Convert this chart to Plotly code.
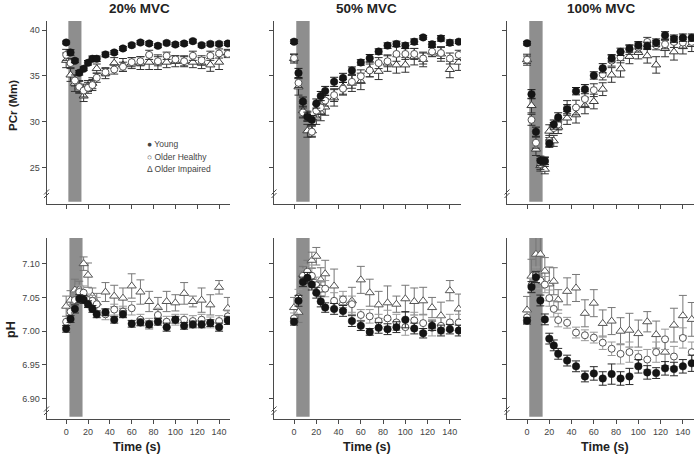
import plotly.graph_objects as go

W, H = 696, 456

time_s = [0, 4, 8, 12, 16, 20, 24, 28, 36, 44, 52, 60, 68, 76, 84, 92, 100, 108, 116, 124, 132, 140, 148]
panel_titles = ["20% MVC", "50% MVC", "100% MVC"]
x_ticks = [0, 20, 40, 60, 80, 100, 120, 140]
pcr_ticks = [25, 30, 35, 40]
ph_ticks = [6.90, 6.95, 7.00, 7.05, 7.10]
group_names = ["Young", "Older Healthy", "Older Impaired"]
contraction = [[2, 14], [2, 14], [2, 14], [3, 15], [2, 14], [2, 14]]

# ---- PCr (mM) ----
pcr20_young = [38.65, 37.56, 36.65, 35.34, 35.78, 36.43, 36.87, 36.87, 37.34, 37.56, 38.0, 38.36, 38.65, 38.54, 38.29, 38.6, 38.43, 38.54, 38.8, 38.36, 38.5, 38.5, 38.54]
pcr20_young_err = [0.15, 0.3, 0.2, 0.25, 0.2, 0.25, 0.3, 0.3, 0.25, 0.2, 0.2, 0.2, 0.2, 0.2, 0.2, 0.2, 0.2, 0.2, 0.2, 0.2, 0.2, 0.2, 0.2]
pcr20_healthy = [37.3, 36.4, 34.5, 33.8, 33.4, 33.7, 34.0, 34.8, 35.4, 35.7, 36.0, 36.5, 36.6, 37.3, 36.6, 37.2, 36.8, 36.6, 37.2, 36.7, 37.2, 37.45, 37.4]
pcr20_healthy_err = [0.6, 0.5, 0.6, 0.6, 0.7, 0.6, 0.6, 0.5, 0.4, 0.5, 0.5, 0.5, 0.5, 0.5, 0.5, 0.4, 0.4, 0.5, 0.5, 0.5, 0.5, 0.5, 0.4]
pcr20_impaired = [36.7, 35.1, 34.2, 33.8, 32.8, 33.9, 34.2, 35.8, 35.3, 36.4, 36.2, 36.4, 36.4, 36.5, 36.5, 36.5, 36.6, 36.6, 36.5, 36.4, 36.2, 36.5, 37.5]
pcr20_impaired_err = [0.8, 0.7, 0.9, 0.7, 0.6, 0.6, 0.6, 0.5, 0.6, 0.6, 0.7, 0.6, 0.7, 0.8, 0.8, 0.6, 0.6, 0.6, 0.6, 0.6, 0.7, 0.8, 0.4]

pcr50_young = [38.74, 35.32, 32.19, 30.54, 30.18, 31.98, 32.8, 33.35, 34.35, 34.78, 35.58, 36.47, 36.94, 37.66, 38.31, 38.49, 38.31, 38.74, 39.21, 38.45, 39.1, 38.63, 38.74]
pcr50_young_err = [0.2, 0.5, 0.5, 0.5, 0.5, 0.5, 0.5, 0.5, 0.5, 0.5, 0.4, 0.3, 0.4, 0.3, 0.3, 0.3, 0.3, 0.3, 0.2, 0.3, 0.3, 0.3, 0.2]
pcr50_healthy = [36.94, 34.24, 31.0, 30.65, 28.9, 31.2, 31.55, 32.3, 32.9, 33.6, 34.35, 34.96, 35.6, 36.4, 36.6, 37.4, 37.4, 37.4, 36.9, 37.66, 37.5, 36.9, 37.3]
pcr50_healthy_err = [0.4, 0.5, 0.5, 0.5, 0.6, 0.7, 0.7, 0.6, 0.7, 0.7, 0.7, 0.7, 0.7, 0.6, 0.6, 0.8, 0.6, 0.6, 0.6, 0.5, 0.6, 0.6, 0.5]
pcr50_impaired = [36.9, 33.8, 31.2, 29.0, 29.0, 30.5, 31.0, 31.6, 32.6, 33.8, 34.2, 34.4, 35.7, 35.5, 36.4, 36.2, 36.2, 37.1, 36.8, 37.6, 37.4, 35.7, 36.5]
pcr50_impaired_err = [0.5, 0.9, 0.8, 0.7, 0.6, 0.8, 0.9, 0.9, 0.9, 0.8, 0.9, 0.9, 0.8, 0.9, 0.9, 0.9, 0.8, 0.9, 0.8, 0.5, 0.8, 0.9, 0.9]

pcr100_young = [38.57, 33.0, 28.9, 25.73, 25.73, 27.6, 29.68, 30.47, 31.36, 33.33, 33.55, 35.05, 35.84, 36.92, 37.63, 37.99, 38.35, 38.28, 38.64, 39.43, 39.07, 39.18, 39.18]
pcr100_young_err = [0.2, 0.5, 0.5, 0.5, 0.4, 0.4, 0.5, 0.5, 0.5, 0.4, 0.5, 0.4, 0.5, 0.4, 0.4, 0.4, 0.4, 0.4, 0.4, 0.4, 0.4, 0.4, 0.4]
pcr100_healthy = [36.77, 30.2, 27.7, 25.38, 25.6, 27.9, 29.3, 29.7, 31.5, 31.54, 32.47, 33.44, 35.16, 36.67, 37.03, 37.85, 38.1, 38.71, 38.35, 38.46, 38.71, 38.64, 38.71]
pcr100_healthy_err = [0.4, 0.6, 0.6, 0.6, 0.5, 0.6, 0.6, 0.6, 0.8, 0.8, 0.8, 0.7, 0.6, 0.6, 0.6, 0.5, 0.5, 0.5, 0.5, 0.5, 0.6, 0.6, 0.5]
pcr100_impaired = [36.77, 31.76, 27.0, 25.2, 24.8, 28.96, 27.9, 29.4, 30.4, 30.75, 31.76, 32.2, 33.55, 35.1, 35.77, 37.13, 37.56, 37.2, 36.2, 37.99, 37.63, 38.2, 38.46]
pcr100_impaired_err = [0.6, 0.8, 0.7, 0.6, 0.5, 0.7, 0.6, 0.7, 0.7, 0.9, 0.9, 0.8, 0.7, 0.8, 0.9, 0.8, 0.7, 0.8, 0.9, 0.9, 0.9, 0.8, 0.8]

# ---- pH ----
ph20_young = [7.0035, 7.018, 7.033, 7.048, 7.047, 7.040, 7.033, 7.025, 7.028, 7.017, 7.025, 7.011, 7.013, 7.010, 7.014, 7.006, 7.017, 7.008, 7.010, 7.010, 7.012, 7.006, 7.016]
ph20_young_err = [0.005, 0.005, 0.006, 0.006, 0.006, 0.005, 0.005, 0.005, 0.005, 0.005, 0.005, 0.005, 0.005, 0.005, 0.005, 0.006, 0.005, 0.005, 0.005, 0.005, 0.005, 0.006, 0.006]
ph20_healthy = [7.014, 7.029, 7.046, 7.058, 7.057, 7.046, 7.045, 7.040, 7.025, 7.032, 7.029, 7.034, 7.017, 7.011, 7.024, 7.014, 7.017, 7.017, 7.015, 7.017, 7.013, 7.015, 7.022]
ph20_healthy_err = [0.008, 0.01, 0.012, 0.01, 0.01, 0.009, 0.008, 0.01, 0.008, 0.008, 0.008, 0.01, 0.008, 0.008, 0.01, 0.008, 0.008, 0.008, 0.008, 0.008, 0.008, 0.008, 0.008]
ph20_impaired = [7.037, 7.046, 7.061, 7.062, 7.100, 7.083, 7.052, 7.042, 7.058, 7.052, 7.049, 7.067, 7.058, 7.044, 7.035, 7.044, 7.042, 7.056, 7.044, 7.046, 7.039, 7.065, 7.034]
ph20_impaired_err = [0.015, 0.014, 0.016, 0.012, 0.01, 0.018, 0.012, 0.014, 0.014, 0.016, 0.015, 0.018, 0.018, 0.015, 0.015, 0.015, 0.012, 0.016, 0.008, 0.018, 0.015, 0.01, 0.016]

ph50_young = [7.014, 7.045, 7.073, 7.079, 7.069, 7.057, 7.044, 7.035, 7.033, 7.030, 7.015, 7.008, 6.999, 7.005, 7.003, 7.006, 7.017, 7.004, 6.997, 7.008, 7.001, 7.003, 7.001]
ph50_young_err = [0.005, 0.008, 0.007, 0.008, 0.008, 0.008, 0.008, 0.007, 0.008, 0.008, 0.008, 0.007, 0.005, 0.008, 0.008, 0.008, 0.012, 0.008, 0.007, 0.007, 0.008, 0.007, 0.008]
ph50_healthy = [7.019, 7.050, 7.082, 7.088, 7.082, 7.068, 7.063, 7.063, 7.045, 7.047, 7.040, 7.024, 7.022, 7.015, 7.019, 7.013, 7.006, 7.016, 7.012, 7.005, 7.008, 7.013, 7.013]
ph50_healthy_err = [0.008, 0.012, 0.01, 0.01, 0.012, 0.012, 0.012, 0.012, 0.012, 0.012, 0.012, 0.008, 0.01, 0.01, 0.012, 0.012, 0.012, 0.012, 0.012, 0.012, 0.012, 0.012, 0.012]
ph50_impaired = [7.035, 7.028, 7.084, 7.090, 7.105, 7.111, 7.076, 7.085, 7.067, 7.042, 7.045, 7.076, 7.057, 7.039, 7.042, 7.040, 7.048, 7.044, 7.045, 7.035, 7.023, 7.060, 7.033]
ph50_impaired_err = [0.015, 0.015, 0.012, 0.015, 0.012, 0.013, 0.018, 0.02, 0.025, 0.01, 0.02, 0.02, 0.02, 0.02, 0.025, 0.012, 0.02, 0.02, 0.02, 0.015, 0.02, 0.015, 0.022]

ph100_young = [7.0155, 7.0655, 7.080, 7.0455, 7.0175, 6.989, 6.979, 6.9665, 6.9565, 6.948, 6.933, 6.9375, 6.930, 6.9365, 6.930, 6.933, 6.948, 6.939, 6.938, 6.945, 6.944, 6.948, 6.9525]
ph100_young_err = [0.005, 0.008, 0.008, 0.008, 0.008, 0.008, 0.008, 0.008, 0.008, 0.008, 0.008, 0.01, 0.01, 0.015, 0.01, 0.012, 0.01, 0.01, 0.008, 0.01, 0.01, 0.01, 0.012]
ph100_healthy = [7.0205, 7.068, 7.083, 7.075, 7.069, 7.049, 7.033, 7.0165, 7.0125, 6.998, 6.994, 6.9905, 6.983, 6.974, 6.9665, 6.969, 6.9615, 6.958, 6.969, 6.988, 6.9625, 6.990, 6.969]
ph100_healthy_err = [0.008, 0.01, 0.012, 0.012, 0.012, 0.012, 0.012, 0.01, 0.008, 0.008, 0.008, 0.008, 0.01, 0.01, 0.015, 0.015, 0.01, 0.015, 0.015, 0.015, 0.015, 0.015, 0.015]
ph100_impaired = [7.0315, 7.0815, 7.114, 7.114, 7.089, 7.070, 7.074, 7.0465, 7.059, 7.064, 7.0265, 7.0415, 7.0115, 7.015, 7.000, 7.0015, 6.9965, 7.014, 6.995, 6.969, 7.009, 7.023, 7.0175]
ph100_impaired_err = [0.02, 0.025, 0.025, 0.025, 0.02, 0.025, 0.02, 0.015, 0.02, 0.02, 0.02, 0.02, 0.02, 0.02, 0.02, 0.025, 0.02, 0.015, 0.02, 0.02, 0.025, 0.03, 0.025]

panels = [
    (pcr20_young, pcr20_young_err, pcr20_healthy, pcr20_healthy_err, pcr20_impaired, pcr20_impaired_err),
    (pcr50_young, pcr50_young_err, pcr50_healthy, pcr50_healthy_err, pcr50_impaired, pcr50_impaired_err),
    (pcr100_young, pcr100_young_err, pcr100_healthy, pcr100_healthy_err, pcr100_impaired, pcr100_impaired_err),
    (ph20_young, ph20_young_err, ph20_healthy, ph20_healthy_err, ph20_impaired, ph20_impaired_err),
    (ph50_young, ph50_young_err, ph50_healthy, ph50_healthy_err, ph50_impaired, ph50_impaired_err),
    (ph100_young, ph100_young_err, ph100_healthy, ph100_healthy_err, ph100_impaired, ph100_impaired_err),
]

def px(x):
    return x / W

def py(y):
    return 1 - y / H

FONT = "Liberation Sans, Arial, sans-serif"
AX = "#4a4a4a"

col_px = [(46.5, 230.0), (274.0, 461.0), (507.0, 694.0)]
row_px = [(21.0, 204.0), (238.0, 419.0)]

fig = go.Figure()
layout = dict(
    width=W, height=H, margin=dict(l=0, r=0, t=0, b=0),
    paper_bgcolor="white", plot_bgcolor="white", showlegend=False,
    font=dict(family=FONT, color="#333"),
)
shapes = []
annotations = []

for i in range(6):
    r, c = divmod(i, 3)
    k = "" if i == 0 else str(i + 1)
    xa, ya = "x" + k, "y" + k
    x0p, x1p = col_px[c]
    y0p, y1p = row_px[r]
    layout["xaxis" + k] = dict(
        domain=[px(x0p), px(x1p)], range=[-18, 150], anchor=ya,
        showline=True, linecolor=AX, linewidth=1, ticks="outside", ticklen=4,
        tickcolor=AX, tickvals=x_ticks, showgrid=False, zeroline=False,
        showticklabels=(r == 1), tickfont=dict(size=9, color="#444", family=FONT),
    )
    if r == 0:
        yr, tv, tt = [21, 41], pcr_ticks, [str(v) for v in pcr_ticks]
    else:
        yr, tv, tt = [6.87, 7.138], ph_ticks, ["%.2f" % v for v in ph_ticks]
    layout["yaxis" + k] = dict(
        domain=[py(y1p), py(y0p)], range=yr, anchor=xa,
        showline=True, linecolor=AX, linewidth=1, ticks="outside", ticklen=4,
        tickcolor=AX, tickvals=tv, ticktext=tt, showgrid=False, zeroline=False,
        showticklabels=(c == 0), tickfont=dict(size=9, color="#444", family=FONT),
    )
    # contraction period shading
    shapes.append(dict(type="rect", xref=xa, yref=ya + " domain",
                       x0=contraction[i][0], x1=contraction[i][1],
                       y0=0.012, y1=1.0, fillcolor="#8e8e8e",
                       line=dict(width=0), layer="below"))
    # axis break marks
    bx = x0p
    by = y1p - 12 if r == 0 else y1p - 10
    for off in (0, 3.5):
        shapes.append(dict(type="line", xref="paper", yref="paper",
                           x0=px(bx - 2.5), y0=py(by + off + 2.5),
                           x1=px(bx + 2.5), y1=py(by + off - 2.5),
                           line=dict(color=AX, width=1)))

    yv, ye, hv, he, iv, ie = panels[i]
    if r == 0:
        ecol = ("#1a1a1a", "#333333", "#333333")
    else:
        ecol = ("#2a2a2a", "#9a9a9a", "#777777")
    fig.add_trace(go.Scatter(
        x=time_s, y=iv, mode="markers", name=group_names[2], xaxis=xa, yaxis=ya,
        marker=dict(symbol="triangle-up", size=8, color="white",
                    line=dict(color="#3a3a3a" if r == 0 else "#555", width=1)),
        error_y=dict(type="data", array=ie, color=ecol[2], thickness=1, width=4)))
    fig.add_trace(go.Scatter(
        x=time_s, y=hv, mode="markers", name=group_names[1], xaxis=xa, yaxis=ya,
        marker=dict(symbol="circle", size=7, color="white",
                    line=dict(color="#555", width=1)),
        error_y=dict(type="data", array=he, color=ecol[1], thickness=1, width=4)))
    fig.add_trace(go.Scatter(
        x=time_s, y=yv, mode="markers", name=group_names[0], xaxis=xa, yaxis=ya,
        marker=dict(symbol="circle", size=7.5, color="#151515",
                    line=dict(color="#151515", width=0.5)),
        error_y=dict(type="data", array=ye, color=ecol[0], thickness=1, width=4)))

# titles
for c, (cx, t) in enumerate(zip([139, 367, 601], panel_titles)):
    annotations.append(dict(text="<b>%s</b>" % t, x=px(cx), y=py(8), xref="paper", yref="paper",
                            showarrow=False, xanchor="center", yanchor="middle",
                            font=dict(size=13.5, color="#222", family=FONT)))
for cx in [137, 367, 605]:
    annotations.append(dict(text="<b>Time (s)</b>", x=px(cx), y=py(447), xref="paper", yref="paper",
                            showarrow=False, xanchor="center", yanchor="middle",
                            font=dict(size=12.5, color="#222", family=FONT)))
annotations.append(dict(text="<b>PCr (Mm)</b>", x=px(13), y=py(106), xref="paper", yref="paper",
                        showarrow=False, textangle=-90, xanchor="center", yanchor="middle",
                        font=dict(size=11.5, color="#222", family=FONT)))
annotations.append(dict(text="<b>pH</b>", x=px(11), y=py(330), xref="paper", yref="paper",
                        showarrow=False, textangle=-90, xanchor="center", yanchor="middle",
                        font=dict(size=12.5, color="#222", family=FONT)))
# legend
for sym, name, ly in [("\u25cf", group_names[0], 143.5), ("\u25cb", group_names[1], 156.5), ("\u0394", group_names[2], 169)]:
    annotations.append(dict(text=sym + " " + name, x=px(144.5), y=py(ly), xref="paper", yref="paper",
                            showarrow=False, xanchor="left", yanchor="middle",
                            font=dict(size=8.5, color="#444", family=FONT)))

layout["shapes"] = shapes
layout["annotations"] = annotations
fig.update_layout(**layout)
fig.write_html("out.html", config={"displayModeBar": False},
               post_script="document.body.style.margin='0';document.body.style.padding='0';")
